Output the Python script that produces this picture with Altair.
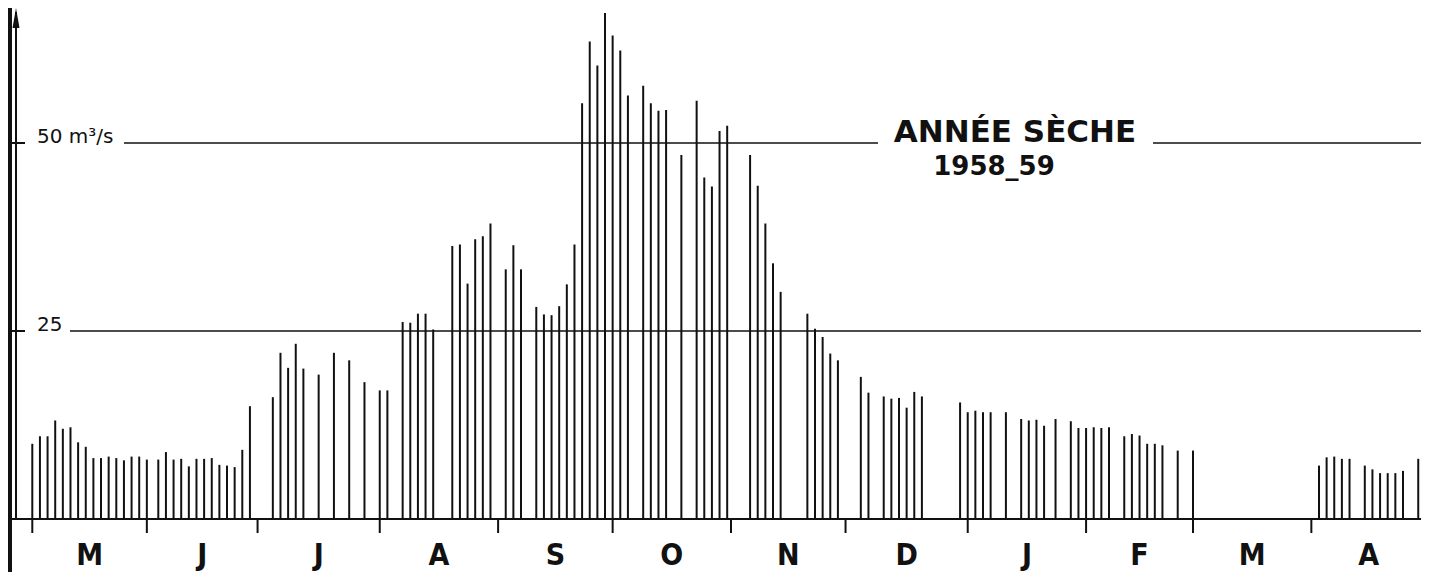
import altair as alt
import pandas as pd

# ---- data (day index from 1 May 1958, flow in m3/s) ----
months = ["M", "J", "J", "A", "S", "O", "N", "D", "J", "F", "M", "A"]
month_ticks = [0, 30, 59, 91, 122, 152, 183, 213, 245, 276, 304, 335, 365]

may_days = [0, 2, 4, 6, 8, 10, 12, 14, 16, 18, 20, 22, 24, 26, 28, 30]
may_flow = [10.0, 11.0, 11.0, 13.1, 12.0, 12.2, 10.2, 9.6, 8.1, 8.1, 8.3, 8.1, 7.8, 8.3, 8.3, 7.9]
jun_days = [33, 35, 37, 39, 41, 43, 45, 47, 49, 51, 53, 55, 57]
jun_flow = [7.9, 8.9, 7.9, 8.0, 7.0, 8.0, 8.0, 8.1, 7.2, 7.1, 6.9, 9.2, 15.0]
jul_days = [63, 65, 67, 69, 71, 75, 79, 83, 87, 91, 93]
jul_flow = [16.2, 22.1, 20.1, 23.3, 20.0, 19.2, 22.1, 21.1, 18.2, 17.1, 17.1]
aug_days = [97, 99, 101, 103, 105, 110, 112, 114, 116, 118, 120]
aug_flow = [26.2, 26.1, 27.3, 27.3, 25.2, 36.3, 36.5, 31.3, 37.2, 37.6, 39.3]
sep_days = [124, 126, 128, 132, 134, 136, 138, 140, 142, 144, 146, 148, 150]
sep_flow = [33.2, 36.4, 33.2, 28.2, 27.2, 27.1, 28.3, 31.2, 36.5, 55.3, 63.5, 60.3, 67.3]
oct_days = [152, 154, 156, 160, 162, 164, 166, 170, 174, 176, 178, 180, 182]
oct_flow = [64.3, 62.3, 56.3, 57.6, 55.3, 54.3, 54.4, 48.4, 55.6, 45.4, 44.2, 51.6, 52.3]
nov_days = [188, 190, 192, 194, 196, 203, 205, 207, 209, 211]
nov_flow = [48.4, 44.3, 39.3, 34.0, 30.2, 27.3, 25.3, 24.2, 22.0, 21.1]
dec_days = [217, 219, 223, 225, 227, 229, 231, 233, 243]
dec_flow = [18.9, 16.8, 16.3, 16.0, 16.1, 14.8, 16.9, 16.3, 15.5]
jan_days = [245, 247, 249, 251, 255, 259, 261, 263, 265, 268, 272, 274]
jan_flow = [14.2, 14.4, 14.2, 14.2, 14.2, 13.3, 13.1, 13.2, 12.4, 13.3, 13.0, 12.1]
feb_days = [276, 278, 280, 282, 286, 288, 290, 292, 294, 296, 300, 304]
feb_flow = [12.1, 12.2, 12.1, 12.2, 11.0, 11.3, 11.1, 10.0, 10.0, 9.8, 9.1, 9.1]
apr_days = [337, 339, 341, 343, 345, 349, 351, 353, 355, 357, 359, 363]
apr_flow = [7.1, 8.2, 8.3, 8.0, 8.0, 7.1, 6.6, 6.1, 6.1, 6.1, 6.4, 8.0]

title_line1 = "ANNÉE SÈCHE"
title_line2 = "1958_59"
label_50 = "50 m³/s"
label_25 = "25"

# ---- tables ----
days = (may_days + jun_days + jul_days + aug_days + sep_days + oct_days
        + nov_days + dec_days + jan_days + feb_days + apr_days)
flows = (may_flow + jun_flow + jul_flow + aug_flow + sep_flow + oct_flow
         + nov_flow + dec_flow + jan_flow + feb_flow + apr_flow)
bars = pd.DataFrame({"day": days, "flow": flows})
mids = [(month_ticks[i] + month_ticks[i + 1]) / 2 for i in range(len(months))]
mlab = pd.DataFrame({"mid": mids, "m": months})
ticks = pd.DataFrame({"tick": month_ticks})
dummy = pd.DataFrame({"a": [0]})

W, H = 1413, 511
PB = 53
xs = alt.Scale(domain=[-6.365, 363.72], nice=False, zero=False)
ys = alt.Scale(domain=[0, 67.95], nice=False, zero=False)
INK = "#111111"

bar_layer = alt.Chart(bars).mark_rule(color=INK, strokeWidth=2).encode(
    x=alt.X("day:Q", scale=xs, axis=None),
    y=alt.Y("flow:Q", scale=ys, axis=None),
    y2=alt.datum(0),
)

tick_layer = alt.Chart(ticks).mark_rule(color=INK, strokeWidth=2).encode(
    x=alt.X("tick:Q", scale=xs, axis=None),
    y=alt.value(H),
    y2=alt.value(H + 14),
)

month_layer = alt.Chart(mlab).mark_text(
    font="Liberation Sans Narrow, DejaVu Sans Condensed, Liberation Sans",
    fontSize=30, fontWeight="bold", color=INK, baseline="alphabetic", align="center"
).encode(
    x=alt.X("mid:Q", scale=xs, axis=None),
    y=alt.value(H + 46),
    text="m:N",
)

base = alt.Chart(dummy)
baseline = base.mark_rule(color=INK, strokeWidth=2).encode(
    x=alt.value(2), x2=alt.value(W), y=alt.Y(datum=0, scale=ys, axis=None))
grid25 = base.mark_rule(color=INK, strokeWidth=1.5).encode(
    x=alt.value(62), x2=alt.value(W), y=alt.Y(datum=25, scale=ys, axis=None))
grid50a = base.mark_rule(color=INK, strokeWidth=1.5).encode(
    x=alt.value(116), x2=alt.value(870), y=alt.Y(datum=50, scale=ys, axis=None))
grid50b = base.mark_rule(color=INK, strokeWidth=1.5).encode(
    x=alt.value(1145), x2=alt.value(W), y=alt.Y(datum=50, scale=ys, axis=None))

ylab50 = base.mark_text(font="DejaVu Sans", fontSize=20, color=INK, align="left",
                        baseline="alphabetic", text=label_50).encode(
    x=alt.value(29), y=alt.Y(datum=50, scale=ys, axis=None))
ylab25 = base.mark_text(font="DejaVu Sans", fontSize=20, color=INK, align="left",
                        baseline="alphabetic", text=label_25).encode(
    x=alt.value(29), y=alt.Y(datum=25, scale=ys, axis=None))

title1 = base.mark_text(font="DejaVu Sans", fontSize=31, fontWeight="bold", color=INK,
                        align="center", baseline="alphabetic", text=title_line1).encode(
    x=alt.value(1007), y=alt.value(134))
title2 = base.mark_text(font="DejaVu Sans", fontSize=26, fontWeight="bold", color=INK,
                        align="center", baseline="alphabetic", text=title_line2).encode(
    x=alt.value(986), y=alt.value(167))

# y axis line with arrow and ticks, thick left border
yaxis = base.mark_rule(color=INK, strokeWidth=2).encode(
    x=alt.value(8), y=alt.value(4), y2=alt.value(H))
ytick50 = base.mark_rule(color=INK, strokeWidth=2).encode(
    x=alt.value(1), x2=alt.value(17), y=alt.Y(datum=50, scale=ys, axis=None))
ytick25 = base.mark_rule(color=INK, strokeWidth=2).encode(
    x=alt.value(1), x2=alt.value(17), y=alt.Y(datum=25, scale=ys, axis=None))
arrow = base.mark_point(shape="M0,-1L0.35,1L-0.35,1Z", size=400, filled=True,
                        color=INK, opacity=1).encode(x=alt.value(8), y=alt.value(10))
border = base.mark_rule(color=INK, strokeWidth=4).encode(
    x=alt.value(2), y=alt.value(0), y2=alt.value(H + PB))

chart = alt.layer(
    grid25, grid50a, grid50b, baseline, bar_layer, tick_layer, month_layer,
    ylab50, ylab25, title1, title2, yaxis, ytick50, ytick25, arrow, border
).properties(
    width=W, height=H,
    padding={"left": 0, "top": 0, "right": 0, "bottom": PB},
    autosize=alt.AutoSizeParams(type="none"),
    background="white",
).configure_view(stroke=None)

chart.save("out.html", embed_options={"renderer": "svg", "actions": False})
